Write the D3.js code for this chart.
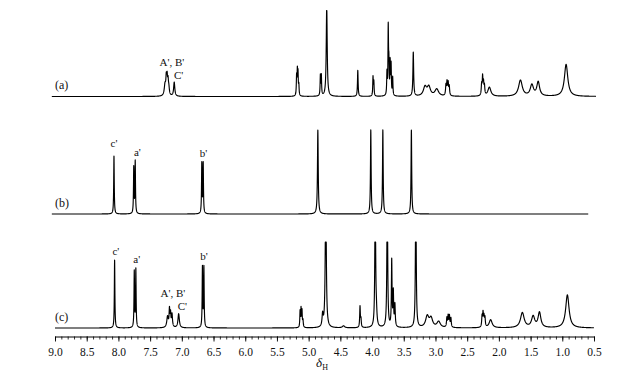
<!DOCTYPE html>
<html><head><meta charset="utf-8">
<script src="https://cdn.jsdelivr.net/npm/d3@7"></script>
<style>
body{margin:0;background:#fff}
svg{display:block}
text{font-family:"Liberation Serif","Times New Roman",serif;fill:#111}
</style>
</head><body>
<svg id="chart" width="624" height="381"></svg>
<script>
// ---- data ----
const tickValues = [9.0,8.5,8.0,7.5,7.0,6.5,6.0,5.5,5.0,4.5,4.0,3.5,3.0,2.5,2.0,1.5,1.0,0.5];
const tickLabels = ["9.0","8.5","8.0","7.5","7.0","6.5","6.0","5.5","5.0","4.5","4.0","3.5","3.0","2.5","2.0","1.5","1.0","0.5"];
const traceNames = ["(a)","(b)","(c)"];
const traceRanges = [[9.05,0.47],[9.05,0.59],[9.0,0.5]];

// peaks: [ppm, intensity, half-width (ppm)]
const peaksA = [
  [7.265,11,0.014],[7.245,16,0.008],[7.232,15,0.007],[7.218,13,0.008],[7.205,7,0.01],
  [7.12,14,0.011],
  [5.19,19,0.005],[5.178,23,0.005],[5.168,21,0.005],[5.155,10,0.005],
  [4.815,20,0.005],[4.800,20,0.005],
  [4.715,90,0.009],
  [4.225,26,0.006],
  [3.985,19,0.005],[3.972,14,0.005],
  [3.765,22,0.005],[3.745,66,0.005],[3.735,28,0.005],[3.715,32,0.005],[3.70,30,0.005],[3.675,18,0.005],
  [3.35,44,0.007],
  [3.165,9,0.03],[3.105,9,0.03],
  [2.98,7,0.035],
  [2.835,10,0.007],[2.818,13,0.007],[2.80,12,0.007],[2.783,9,0.007],
  [2.272,11,0.007],[2.257,17,0.006],[2.243,12,0.007],[2.228,9,0.007],
  [2.15,9,0.028],
  [1.66,16,0.035],
  [1.48,11,0.03],
  [1.38,14,0.026],
  [0.94,32,0.032]
];
const peaksB = [
  [8.07,58,0.005],
  [7.758,46,0.005],[7.735,52,0.005],
  [6.685,50,0.005],[6.663,50,0.005],
  [4.855,84,0.007],
  [4.02,84,0.006],
  [3.83,84,0.006],
  [3.38,84,0.006]
];
const peaksC = [
  [8.06,68,0.005],
  [7.75,56,0.005],[7.725,58,0.005],
  [7.225,11,0.014],[7.195,17,0.007],[7.178,13,0.007],[7.155,13,0.009],
  [7.05,14,0.013],
  [6.675,60,0.005],[6.652,60,0.005],
  [5.135,16,0.005],[5.12,18,0.005],[5.105,16,0.005],[5.09,7,0.006],
  [4.78,12,0.01],[4.73,150,0.009],
  [4.45,2,0.02],
  [4.19,21,0.006],[4.175,8,0.006],
  [3.95,150,0.007],[3.932,12,0.01],
  [3.76,150,0.007],
  [3.69,66,0.006],[3.665,34,0.006],[3.64,22,0.007],
  [3.31,150,0.007],
  [3.13,11,0.03],[3.07,9,0.03],
  [2.95,6,0.032],
  [2.82,9,0.007],[2.80,11,0.007],[2.78,11,0.007],[2.757,9,0.007],
  [2.265,11,0.007],[2.25,13,0.006],[2.235,10,0.007],[2.22,9,0.007],
  [2.13,8,0.028],
  [1.63,15,0.035],
  [1.46,11,0.03],
  [1.36,15,0.026],
  [0.92,33,0.032]
];
const peakSets = [peaksA, peaksB, peaksC];

// annotations: [text, ppm, intensity]
const notesA = [["A', B'",7.155,31],["C'",7.05,18]];
const notesB = [["c'",8.07,67],["a'",7.70,58],["b'",6.66,57]];
const notesC = [["c'",8.04,73],["a'",7.71,65],["b'",6.65,68],["A', B'",7.14,31],["C'",6.99,18]];
const noteSets = [notesA, notesB, notesC];

// ---- layout ----
const baselines = [96.5, 214, 328];
const axisY = 336.5;
const svg = d3.select("#chart");
const x = d3.scaleLinear().domain([9.0, 0.5]).range([55, 594]);

function spectrum(peaks, range) {
  const pts = d3.range(range[0], range[1], -0.001);
  return pts.map(p => {
    let v = 0;
    for (const [c, h, w] of peaks) { const d = (p - c) / w; v += h / (1 + d * d); }
    return [p, v];
  });
}

peakSets.forEach((peaks, i) => {
  const base = baselines[i];
  const y = d3.scaleLinear().domain([0, 86]).range([base, base - 86]).clamp(true);
  const data = spectrum(peaks, traceRanges[i]);
  svg.append("path")
    .attr("d", d3.line().x(d => x(d[0])).y(d => y(d[1]))(data))
    .attr("fill", "none").attr("stroke", "#000").attr("stroke-width", 1.15)
    .attr("stroke-linejoin", "round");
  svg.append("text").attr("x", 55).attr("y", base - 7.5)
    .attr("font-size", 12).text(traceNames[i]);
  noteSets[i].forEach(([t, p, v]) => {
    svg.append("text").attr("x", x(p)).attr("y", y(v))
      .attr("text-anchor", "middle").attr("font-size", 11).text(t);
  });
});

// ---- axis ----
const minor = d3.range(90, 4, -1).map(k => k / 10);
const axis = d3.axisBottom(x).tickValues(minor).tickSize(3).tickFormat("");
const g = svg.append("g").attr("transform", `translate(0,${axisY})`).call(axis);
g.select(".domain").attr("stroke", "#000").attr("stroke-width", 1);
g.selectAll(".tick line").attr("stroke", "#000").attr("stroke-width", 0.8);
const major = d3.axisBottom(x).tickValues(tickValues).tickSize(5)
  .tickFormat((d, i) => tickLabels[i]).tickPadding(6);
const g2 = svg.append("g").attr("transform", `translate(0,${axisY})`).call(major);
g2.select(".domain").remove();
g2.selectAll(".tick line").attr("stroke", "#000").attr("stroke-width", 0.9);
g2.selectAll(".tick text").attr("font-size", 11.5)
  .attr("font-family", "'Liberation Serif','Times New Roman',serif").attr("fill", "#111");

const lab = svg.append("text").attr("x", 322).attr("y", 367).attr("text-anchor", "middle")
  .attr("font-size", 13);
lab.append("tspan").attr("font-style", "italic").text("δ");
lab.append("tspan").attr("font-size", 8).attr("dy", 3).text("H");
</script>
</body></html>
